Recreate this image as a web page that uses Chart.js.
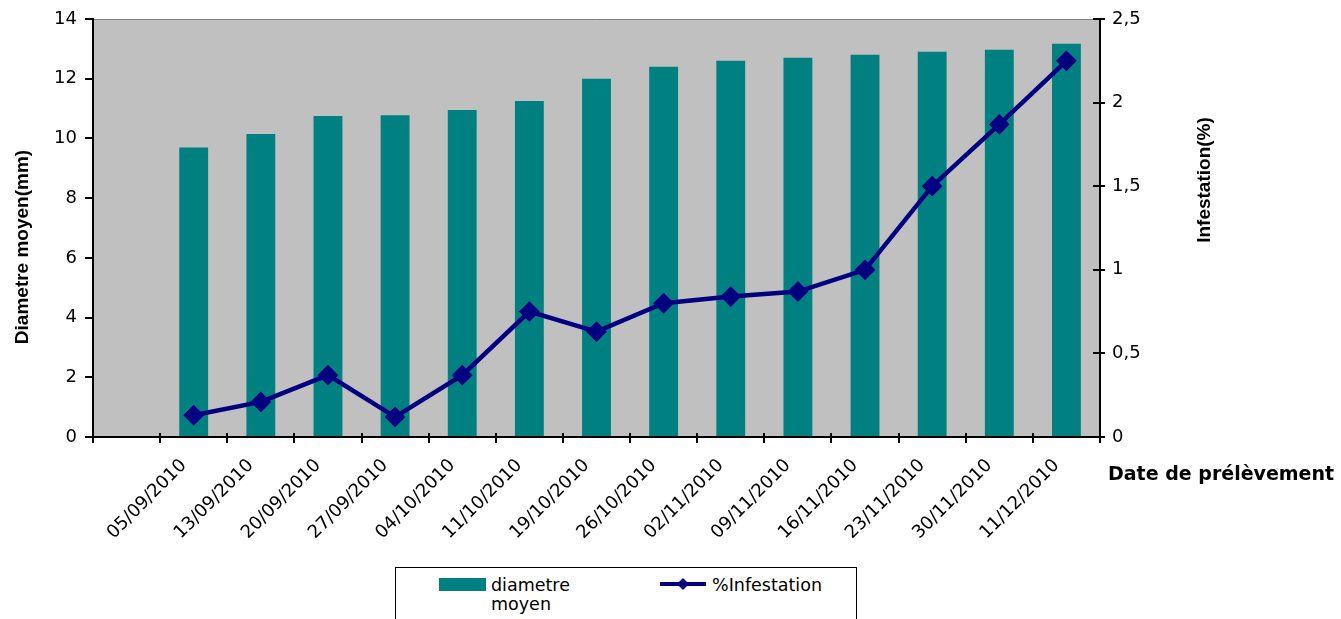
<!DOCTYPE html>
<html>
<head>
<meta charset="utf-8">
<script src="https://cdn.jsdelivr.net/npm/chart.js@4.4.0/dist/chart.umd.min.js"></script>
<style>
html,body{margin:0;padding:0;background:#fff;}
#wrap{position:relative;width:1341px;height:619px;overflow:hidden;background:#fff;}
#c{position:absolute;left:0;top:0;}
#legend{position:absolute;left:395px;top:567px;width:462px;height:70px;border:1px solid #000;box-sizing:border-box;font-family:"DejaVu Sans",sans-serif;font-size:17.5px;line-height:19px;color:#000;background:#fff;}
#legend .sw{position:absolute;left:43px;top:10px;width:47px;height:13px;background:#008080;}
#legend .tx{position:absolute;white-space:nowrap;}
#legend svg{position:absolute;}
</style>
</head>
<body>
<div id="wrap">
<canvas id="c" width="1341" height="619"></canvas>
<div id="legend">
  <div class="sw"></div>
  <div class="tx" style="left:95px;top:8px;">diametre<br>moyen</div>
  <svg style="left:264px;top:6px;" width="46" height="20" viewBox="0 0 46 20"><line x1="0" y1="10" x2="46" y2="10" stroke="#000080" stroke-width="4"/><polygon points="23,4 29,10 23,16 17,10" fill="#000080"/></svg>
  <div class="tx" style="left:316px;top:8px;">%Infestation</div>
</div>
</div>
<script>
// Sampling dates (the first category slot of the axis is left empty, as in the original)
const categories = ['05/09/2010','13/09/2010','20/09/2010','27/09/2010','04/10/2010','11/10/2010','19/10/2010','26/10/2010','02/11/2010','09/11/2010','16/11/2010','23/11/2010','30/11/2010','11/12/2010'];
// Mean diameter (mm) - bars, left axis
const diametre = [9.7, 10.15, 10.75, 10.78, 10.95, 11.25, 12.0, 12.4, 12.6, 12.7, 12.8, 12.9, 12.97, 13.17];
// Infestation (%) - line, right axis
const infestation = [0.13, 0.21, 0.37, 0.12, 0.37, 0.75, 0.63, 0.8, 0.84, 0.87, 1.0, 1.5, 1.87, 2.25];
// Tick labels
const leftTicks = [0, 2, 4, 6, 8, 10, 12, 14];
const rightTicks = [0, 0.5, 1, 1.5, 2, 2.5];
const rightTickLabels = ['0', '0,5', '1', '1,5', '2', '2,5'];
// Titles
const leftTitle = 'Diametre moyen(mm)';
const rightTitle = 'Infestation(%)';
const xTitle = 'Date de prélèvement';

const labels = [''].concat(categories);
const barData = [null].concat(diametre);
const lineData = [null].concat(infestation);

const tickFont = {family: 'DejaVu Sans', size: 18};

const decor = {
  id: 'decor',
  beforeDraw(chart) {
    const {ctx, chartArea: a} = chart;
    ctx.save();
    ctx.fillStyle = '#C0C0C0';
    ctx.fillRect(a.left, a.top, a.right - a.left, a.bottom - a.top);
    ctx.strokeStyle = '#808080';
    ctx.lineWidth = 1;
    ctx.beginPath();
    ctx.moveTo(a.left, a.top + 0.5);
    ctx.lineTo(a.right, a.top + 0.5);
    ctx.stroke();
    ctx.restore();
  },
  afterDraw(chart) {
    const {ctx, chartArea: a} = chart;
    ctx.save();
    ctx.strokeStyle = '#000';
    ctx.lineWidth = 2;
    // inward parts of right-axis ticks
    const y1 = chart.scales.y1;
    rightTicks.forEach(v => {
      const py = Math.round(y1.getPixelForValue(v));
      ctx.beginPath();
      ctx.moveTo(a.right - 7, py);
      ctx.lineTo(a.right, py);
      ctx.stroke();
    });
    // inward parts of x-axis tick marks (between categories)
    const n = labels.length;
    for (let i = 0; i <= n; i++) {
      const px = Math.round(a.left + (a.right - a.left) * i / n);
      ctx.beginPath();
      ctx.moveTo(px, a.bottom - 4);
      ctx.lineTo(px, a.bottom);
      ctx.stroke();
    }
    // axis titles
    ctx.fillStyle = '#000';
    ctx.textBaseline = 'middle';
    ctx.textAlign = 'center';
    ctx.font = 'bold 19px "Liberation Sans"';
    ctx.save();
    ctx.translate(23, 247);
    ctx.rotate(-Math.PI / 2);
    ctx.fillText(leftTitle, 0, 0);
    ctx.restore();
    ctx.save();
    ctx.translate(1205, 180);
    ctx.rotate(-Math.PI / 2);
    ctx.fillText(rightTitle, 0, 0);
    ctx.restore();
    ctx.textAlign = 'left';
    ctx.textBaseline = 'alphabetic';
    ctx.font = 'bold 19px "DejaVu Sans"';
    ctx.fillText(xTitle, 1108, 480);
    ctx.restore();
  }
};

new Chart(document.getElementById('c'), {
  data: {
    labels: labels,
    datasets: [
      {
        type: 'line',
        label: '%Infestation',
        data: lineData,
        yAxisID: 'y1',
        borderColor: '#000080',
        backgroundColor: '#000080',
        borderWidth: 4.5,
        pointStyle: 'rectRot',
        pointRadius: 9,
        pointBorderWidth: 2,
        pointBackgroundColor: '#000080',
        pointBorderColor: '#000080',
        tension: 0,
        spanGaps: false,
        order: 0
      },
      {
        type: 'bar',
        label: 'diametre moyen',
        data: barData,
        yAxisID: 'y',
        backgroundColor: '#008080',
        borderWidth: 0,
        categoryPercentage: 1,
        barPercentage: 0.43,
        order: 1
      }
    ]
  },
  options: {
    responsive: false,
    animation: false,
    layout: {padding: {top: 19, left: 0, right: 0, bottom: 0}},
    plugins: {legend: {display: false}, tooltip: {enabled: false}, title: {display: false}},
    scales: {
      x: {
        type: 'category',
        offset: true,
        grid: {offset: true, drawOnChartArea: false, drawTicks: true, tickLength: 6, color: '#000', lineWidth: 2},
        border: {display: true, color: '#000', width: 2},
        ticks: {autoSkip: false, maxRotation: 45, minRotation: 45, labelOffset: -10, padding: 12, color: '#000', font: tickFont},
        afterFit(s) { s.height = 182; }
      },
      y: {
        position: 'left',
        min: 0, max: 14,
        afterBuildTicks(s) { s.ticks = leftTicks.map(v => ({value: v})); },
        grid: {drawOnChartArea: false, drawTicks: true, tickLength: 8, color: '#000', lineWidth: 2},
        border: {display: true, color: '#000', width: 2},
        ticks: {padding: 8, color: '#000', font: tickFont},
        afterFit(s) { s.width = 93; }
      },
      y1: {
        position: 'right',
        min: 0, max: 2.5,
        afterBuildTicks(s) { s.ticks = rightTicks.map(v => ({value: v})); },
        grid: {drawOnChartArea: false, drawTicks: true, tickLength: 5, color: '#000', lineWidth: 2},
        border: {display: true, color: '#000', width: 2},
        ticks: {padding: 7, color: '#000', font: tickFont,
          callback(v) { const i = rightTicks.indexOf(v); return i >= 0 ? rightTickLabels[i] : String(v).replace('.', ','); }},
        afterFit(s) { s.width = 241; }
      }
    }
  },
  plugins: [decor]
});
</script>
</body>
</html>
